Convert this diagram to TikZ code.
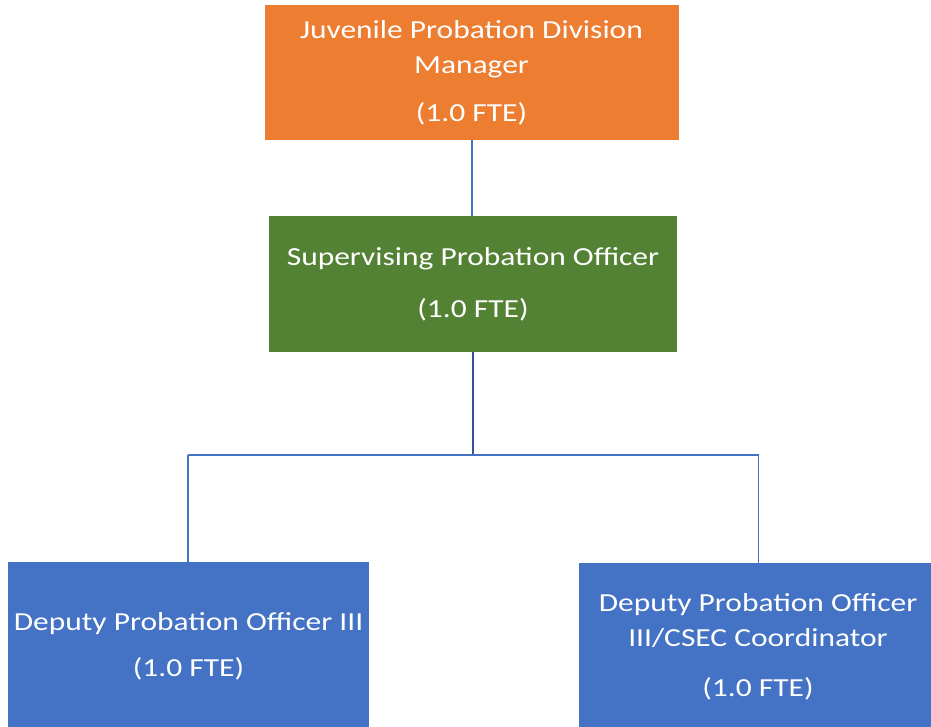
\documentclass[tikz,border=0pt]{standalone}
\usepackage{fontspec}
\setmainfont{Carlito}[FakeStretch=1.21]
\definecolor{orgc}{HTML}{ED7D31}
\definecolor{grnc}{HTML}{548235}
\definecolor{bluc}{HTML}{4472C4}
\definecolor{linec}{HTML}{4472C4}
\definecolor{darkline}{HTML}{2F5597}
\tikzset{
  box/.style={text=white, align=center, inner sep=0pt,
    font=\fontsize{26}{35}\selectfont},
  conn/.style={draw=linec, line width=1.2pt},
  thickconn/.style={draw=darkline, line width=2.4pt}
}
\begin{document}
\begin{tikzpicture}[x=1pt,y=-1pt]
\clip (0,0) rectangle (931,727);
\fill[white] (0,0) rectangle (931,727);
\node[box, fill=orgc, minimum width=414, minimum height=135] (mgr) at (471.5,72.5)
  {Juvenile Probation Division\\Manager\\[13pt](1.0 FTE)};
\node[box, fill=grnc, minimum width=408, minimum height=136] (sup) at (473,284)
  {Supervising Probation Officer\\[17pt](1.0 FTE)};
\node[box, fill=bluc, minimum width=361, minimum height=168] (dpo) at (188.5,646)
  {Deputy Probation Officer III\\[11pt](1.0 FTE)};
\node[box, fill=bluc, minimum width=358, minimum height=168] (csec) at (758,647)
  {Deputy Probation Officer\\III/CSEC Coordinator\\[15pt](1.0 FTE)};
\coordinate (jn) at (473,455);
\coordinate (jl) at (188,455);
\coordinate (jr) at (758.5,455);
\draw[conn] (mgr.south -| 472,0) -- (472,216);
\draw[thickconn] (sup.south -| jn) -- (jn);
\draw[conn] (jl) -- (jr);
\draw[conn] (jl) -- (jl |- dpo.north);
\draw[conn] (jr) -- (jr |- csec.north);
\end{tikzpicture}
\end{document}
